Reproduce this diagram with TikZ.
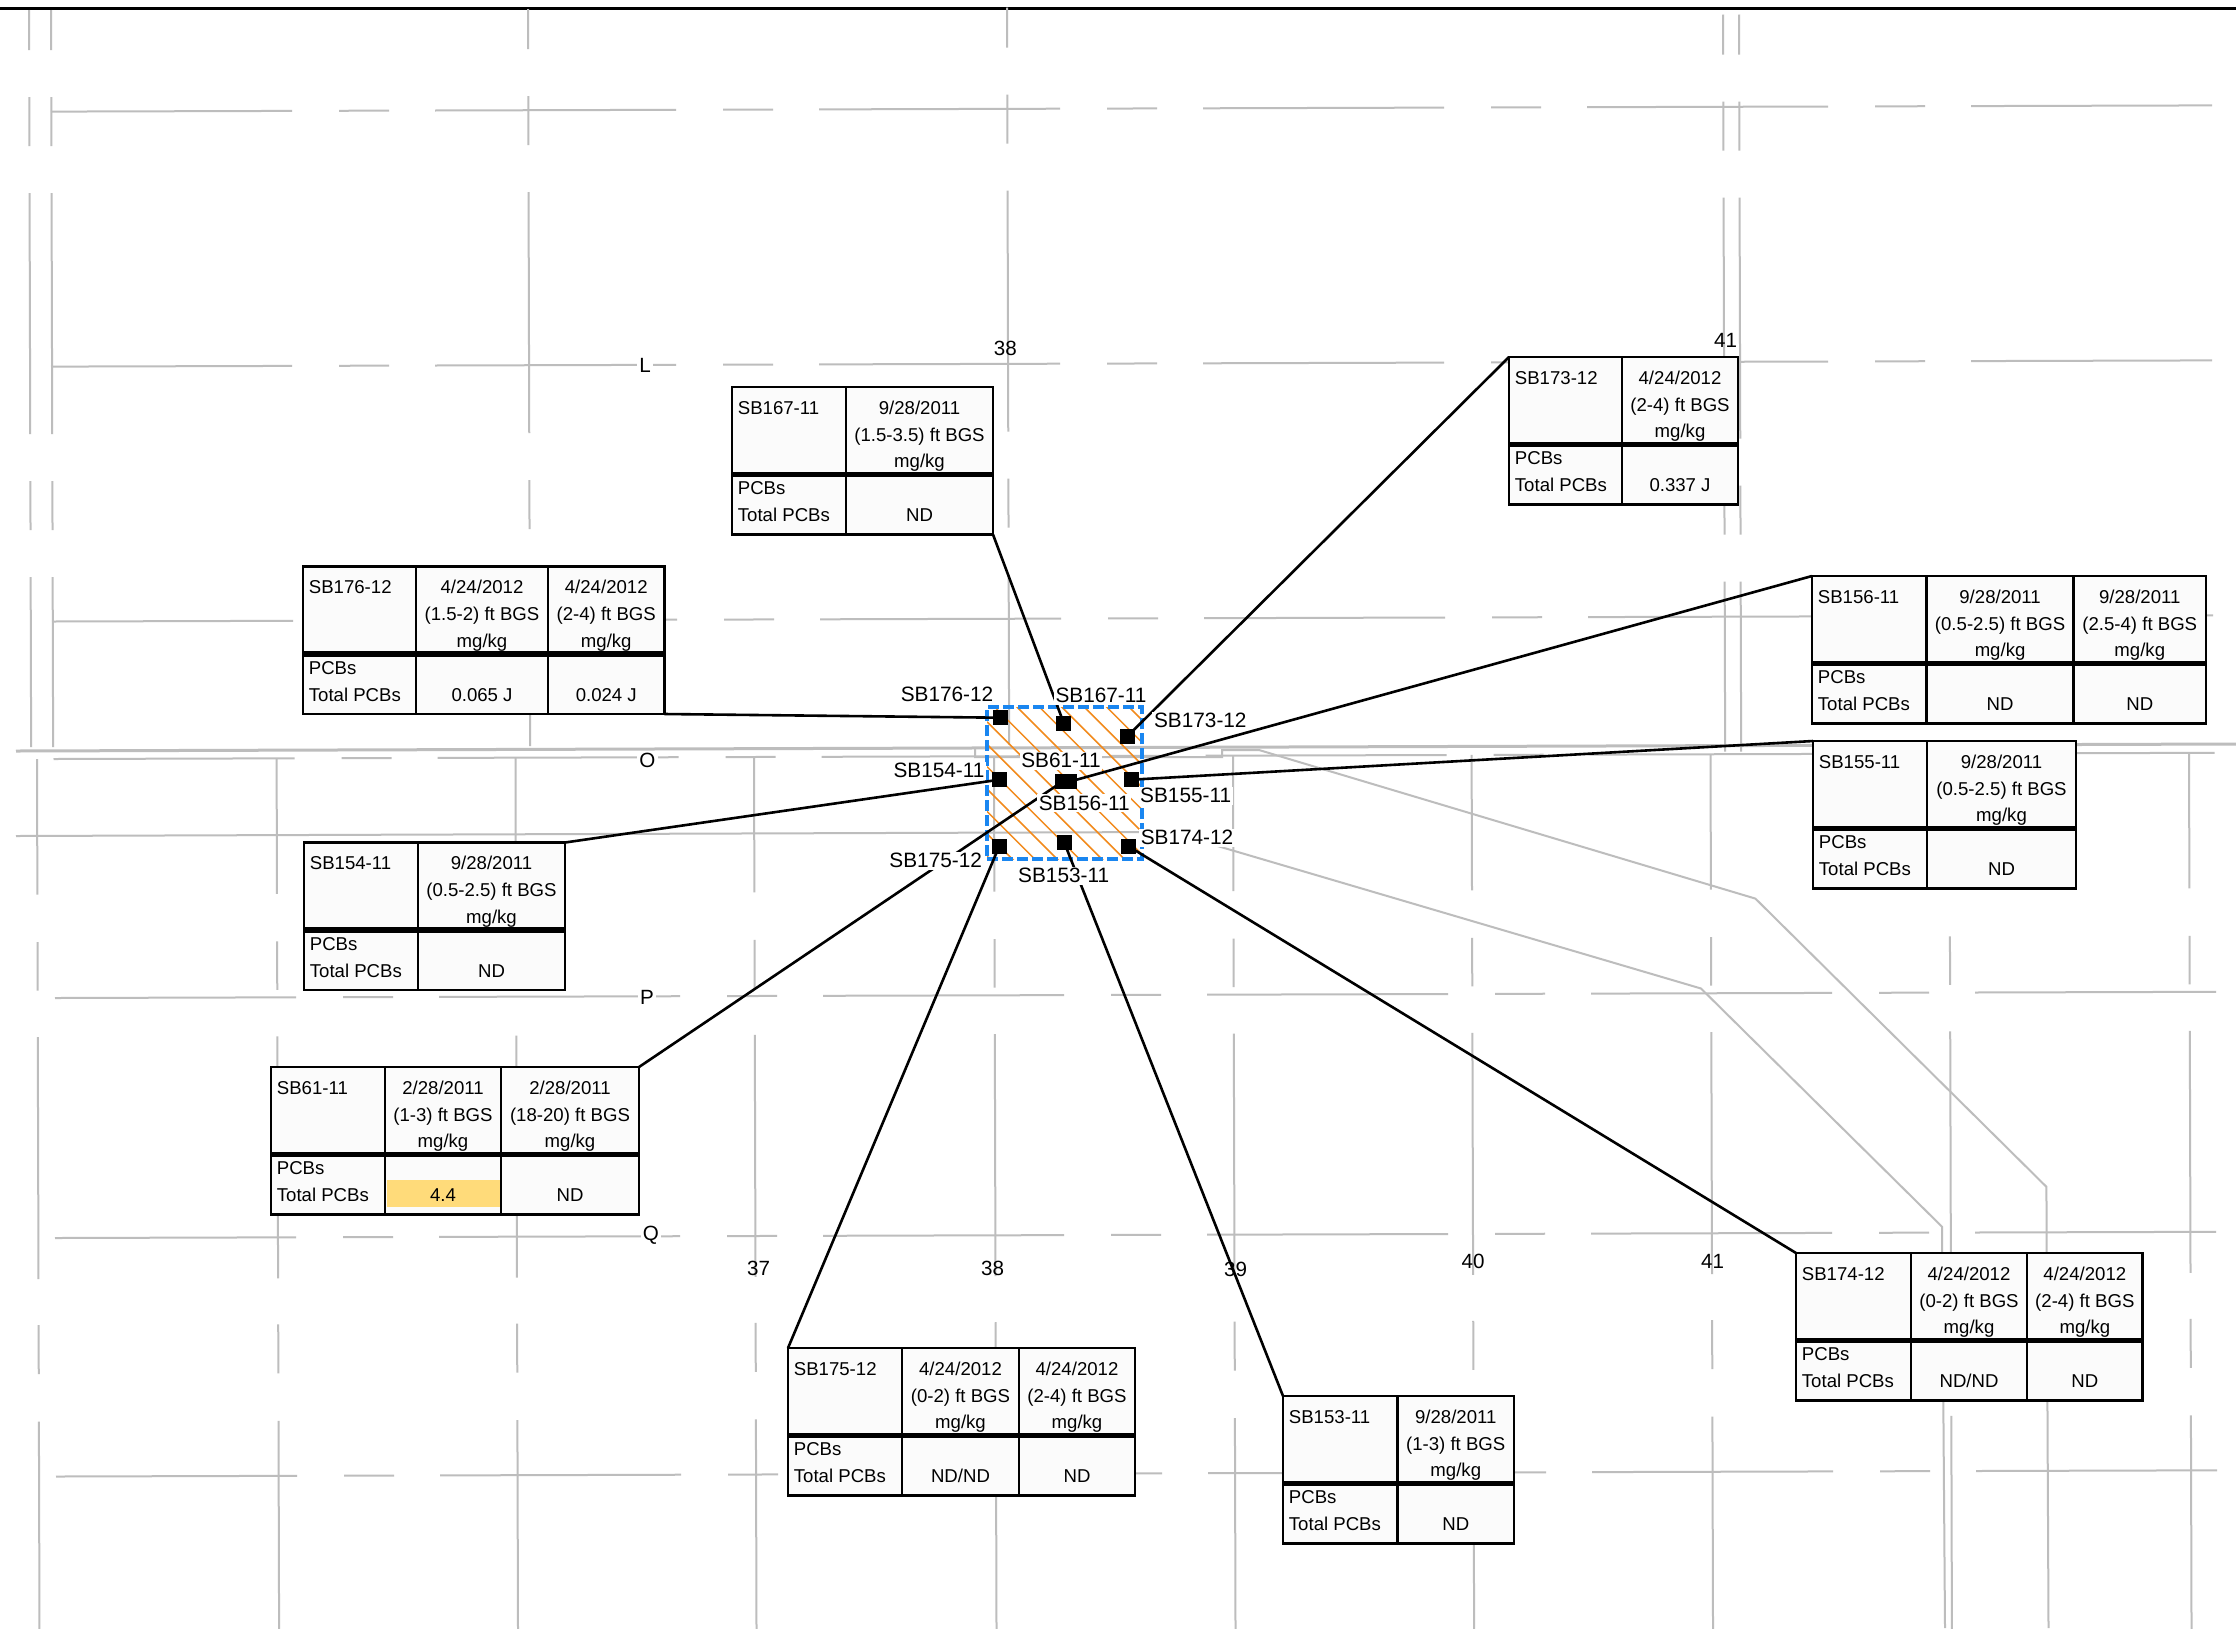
\documentclass[tikz,border=0pt]{standalone}
\usepackage{fontspec}
\setmainfont{Liberation Sans}
\definecolor{roadgray}{HTML}{BDBDBD}
\definecolor{hatchorange}{HTML}{F28A1C}
\definecolor{boxblue}{HTML}{1A86F0}
\definecolor{cellbg}{HTML}{FBFBFB}
\definecolor{hilite}{HTML}{FFDB7A}
\tikzset{
  gridline/.style={draw=roadgray,line width=1pt},
  roadline/.style={draw=roadgray,line width=1pt},
  mainroad/.style={draw=roadgray,line width=1.5pt},
  connector/.style={draw=black,line width=1.3pt},
  tblframe/.style={draw=black,fill=cellbg,line width=1.4pt,inner sep=0pt,outer sep=0pt,rectangle},
  tblrule/.style={draw=black,line width=1.4pt},
  tblmid/.style={draw=black,line width=2.7pt},
  celltext/.style={inner sep=0pt,anchor=base,font=\fontsize{9.3}{11}\selectfont},
  celllab/.style={inner sep=0pt,anchor=base west,font=\fontsize{9.3}{11}\selectfont},
  sample/.style={draw=none,fill=black,minimum size=7.5pt,inner sep=0pt,rectangle},
  sitelabel/.style={fill=white,inner sep=0.8pt,font=\fontsize{10.4}{12}\selectfont},
  gridlabel/.style={inner sep=0.5pt,font=\fontsize{10.3}{12}\selectfont},
  gridletter/.style={fill=white,inner sep=1pt,font=\fontsize{10.3}{12}\selectfont}
}
% horizontal dashed street line: left y, left x
\newcommand{\hrowline}[2]{%
  \foreach \k in {0,...,5}{%
    \draw[gridline] ({#2+384*\k},{#1-0.00287*(384*\k)}) -- ({#2+384*\k+241},{#1-0.00287*(384*\k+241)});
  }%
  \foreach \k in {0,...,4}{%
    \draw[gridline] ({#2+384*\k+288},{#1-0.00287*(384*\k+288)}) -- ({#2+384*\k+338},{#1-0.00287*(384*\k+338)});
  }%
}
% upper vertical dashed line: x, y offset
\newcommand{\vupline}[2]{%
  \foreach \a/\b in {10/50,97/146,193/434,481/530,577/747}{%
    \draw[gridline] ({#1+0.00287*\a},{\a+#2}) -- ({#1+0.00287*\b},{\b+#2});
  }%
}
% lower vertical dashed line: x at top
\newcommand{\vlowline}[1]{%
  \pgfmathsetmacro{\dyy}{-0.0029*(#1-37)}%
  \foreach \a/\b in {759/894.5,942/990.5,1037/1279,1325/1374,1421.5/1640}{%
    \draw[gridline] ({#1+0.00287*(\a-759)},{\a+\dyy}) -- ({#1+0.00287*(\b-759)},{\b+\dyy});
  }%
}
% table frame: name,x0,xright,y0
\newcommand{\tblbox}[4]{%
  \node[tblframe,anchor=north west,minimum width={(#3-#2)*0.5pt},minimum height={147.5*0.5pt}] (#1) at (#2,#4) {};
  \draw[tblmid] (#2,{#4+87.5}) -- (#3,{#4+87.5});
}
% first columns: name,label,x0,x1,x2,y0,date,depth,value
\newcommand{\tblone}[9]{%
  \draw[tblrule] (#4,#6) -- (#4,{#6+147.5});
  \node[celllab] (#1l) at ({#3+5.5},{#6+27}) {#2};
  \node[celllab] (#1p) at ({#3+5.5},{#6+107.5}) {PCBs};
  \node[celllab] (#1t) at ({#3+5.5},{#6+134.5}) {Total PCBs};
  \node[celltext] (#1a) at ({(#4+#5)/2},{#6+27}) {#7};
  \node[celltext] (#1b) at ({(#4+#5)/2},{#6+54}) {#8};
  \node[celltext] (#1c) at ({(#4+#5)/2},{#6+80.5}) {mg/kg};
  \node[celltext] (#1v) at ({(#4+#5)/2},{#6+134.5}) {#9};
}
% second sample column: name,x1,x2,y0,date,depth,value
\newcommand{\tblcol}[7]{%
  \draw[tblrule] (#2,#4) -- (#2,{#4+147.5});
  \node[celltext] (#1d) at ({(#2+#3)/2},{#4+27}) {#5};
  \node[celltext] (#1e) at ({(#2+#3)/2},{#4+54}) {#6};
  \node[celltext] (#1f) at ({(#2+#3)/2},{#4+80.5}) {mg/kg};
  \node[celltext] (#1g) at ({(#2+#3)/2},{#4+134.5}) {#7};
}
\begin{document}
\begin{tikzpicture}[x=0.5pt,y=-0.5pt]
\useasboundingbox[fill=white] (0,0) rectangle (2236,1628);
\begin{scope}
\clip (0,0) rectangle (2236,1628);
% top border
\coordinate (tl) at (0,8.7);
\coordinate (tr) at (2236,8.7);
\draw[black,line width=1.5pt] (tl) -- (tr);
% street grid
\hrowline{111.6}{51}
\hrowline{366.6}{51}
\hrowline{621.5}{52}
\hrowline{759}{53.5}
\hrowline{998}{55}
\hrowline{1238}{55}
\hrowline{1476.5}{56}
\vupline{29}{0}
\vupline{51}{0}
\vupline{528}{-1}
\vupline{1007}{-2.5}
\vupline{1723}{4.5}
\vupline{1739}{4.5}
\foreach \xx in {37,276.6,515.5,754,994,1233,1471.6,1710.5,1949.4,2189}{\vlowline{\xx}}
% long roads
\draw[mainroad] (16,751) -- (2236,744);
\draw[roadline] (975,748) -- (975,757) -- (1222,757) -- (1222,750) -- (1259,750) -- (1755.4,898.6) -- (2046.4,1186.8) -- (2048.5,1628);
\draw[roadline] (16,836) -- (1170,832) -- (1701,988.5) -- (1942,1226.7) -- (1945,1628);
% hatched area
\begin{scope}
\clip (987,707) rectangle (1142,859);
\foreach \k in {-8,...,6}{
  \pgfmathsetmacro{\cc}{310+22.4*\k}
  \draw[hatchorange,line width=0.75pt] (987,{987-\cc}) -- (1142,{1142-\cc});
}
\end{scope}
\node[draw=boxblue,line width=1.9pt,dash pattern=on 5.5pt off 2pt,rectangle,inner sep=0pt,outer sep=0pt,anchor=north west,minimum width=77.5pt,minimum height=76pt] (area) at (987,707) {};
% sample squares
\node[sample] (s176) at (1000,717.7) {};
\node[sample] (s167) at (1063.7,723) {};
\node[sample] (s173) at (1127,736.7) {};
\node[sample] (s154) at (999.3,779.7) {};
\node[sample] (s61) at (1062.3,781.7) {};
\node[sample] (s156) at (1069.3,781.7) {};
\node[sample] (s155) at (1131.3,779.7) {};
\node[sample] (s175) at (999.3,846) {};
\node[sample] (s153) at (1064,842) {};
\node[sample] (s174) at (1128,846) {};
% tables
\tblbox{t167}{732}{993}{387}
\tblone{t167}{SB167-11}{732}{846}{993}{387}{9/28/2011}{(1.5-3.5) ft BGS}{ND}
\tblbox{t176}{303}{664.5}{566.5}
\tblone{t176}{SB176-12}{303}{416}{548}{566.5}{4/24/2012}{(1.5-2) ft BGS}{0.065 J}
\tblcol{t176}{548}{664.5}{566.5}{4/24/2012}{(2-4) ft BGS}{0.024 J}
\tblbox{t173}{1509}{1738}{357}
\tblone{t173}{SB173-12}{1509}{1622}{1738}{357}{4/24/2012}{(2-4) ft BGS}{0.337 J}
\tblbox{t156}{1812}{2206}{576}
\tblone{t156}{SB156-11}{1812}{1926.6}{2073.5}{576}{9/28/2011}{(0.5-2.5) ft BGS}{ND}
\tblcol{t156}{2073.5}{2206}{576}{9/28/2011}{(2.5-4) ft BGS}{ND}
\tblbox{t155}{1813}{2076}{741}
\tblone{t155}{SB155-11}{1813}{1927}{2076}{741}{9/28/2011}{(0.5-2.5) ft BGS}{ND}
\tblbox{t154}{304}{565}{842.5}
\tblone{t154}{SB154-11}{304}{418}{565}{842.5}{9/28/2011}{(0.5-2.5) ft BGS}{ND}
\tblbox{t61}{271}{639}{1067}
\tblone{t61}{SB61-11}{271}{385}{501}{1067}{2/28/2011}{(1-3) ft BGS}{}
\tblcol{t61}{501}{639}{1067}{2/28/2011}{(18-20) ft BGS}{ND}
\fill[hilite] (386.5,1180) rectangle (500,1207);
\node[celltext] (t61v2) at (443,1201.5) {4.4};
\tblbox{t175}{788}{1135}{1348}
\tblone{t175}{SB175-12}{788}{902}{1019}{1348}{4/24/2012}{(0-2) ft BGS}{ND/ND}
\tblcol{t175}{1019}{1135}{1348}{4/24/2012}{(2-4) ft BGS}{ND}
\tblbox{t153}{1283}{1514}{1396}
\tblone{t153}{SB153-11}{1283}{1397.5}{1514}{1396}{9/28/2011}{(1-3) ft BGS}{ND}
\tblbox{t174}{1796}{2142.6}{1253}
\tblone{t174}{SB174-12}{1796}{1911}{2027}{1253}{4/24/2012}{(0-2) ft BGS}{ND/ND}
\tblcol{t174}{2027}{2142.6}{1253}{4/24/2012}{(2-4) ft BGS}{ND}
% connectors
\draw[connector] (t167.south east) -- (s167.center);
\draw[connector] (t176.south east) -- (s176.center);
\draw[connector] (t173.north west) -- (s173.center);
\draw[connector] (t156.north west) -- (s156.center);
\draw[connector] (t155.north west) -- (s155.center);
\draw[connector] (t154.north east) -- (s154.center);
\draw[connector] (t61.north east) -- (s61.center);
\draw[connector] (t175.north west) -- (s175.center);
\draw[connector] (t153.north west) -- (s153.center);
\draw[connector] (t174.north west) -- (s174.center);
% site labels
\node[sitelabel] (l176) at (947,694) {SB176-12};
\node[sitelabel] (l167) at (1101,695.7) {SB167-11};
\node[sitelabel] (l173) at (1200.3,720.7) {SB173-12};
\node[sitelabel] (l61) at (1061,760.7) {SB61-11};
\node[sitelabel] (l154) at (939,770.7) {SB154-11};
\node[sitelabel] (l155) at (1185.7,795.7) {SB155-11};
\node[sitelabel] (l156) at (1084.3,803.3) {SB156-11};
\node[sitelabel] (l174) at (1187,837.7) {SB174-12};
\node[sitelabel] (l175) at (935.7,860.7) {SB175-12};
\node[sitelabel] (l153) at (1063.7,875.7) {SB153-11};
% grid labels
\node[gridletter] (gL) at (645,365) {L};
\node[gridletter] (gO) at (647.5,760) {O};
\node[gridletter] (gP) at (647,997) {P};
\node[gridletter] (gQ) at (651,1235.6) {Q};
\node[gridlabel] (g38a) at (1005.4,348) {38};
\node[gridlabel] (g41a) at (1725.5,340.6) {41};
\node[gridlabel] (g37) at (758.6,1268) {37};
\node[gridlabel] (g38b) at (992.5,1268) {38};
\node[gridlabel] (g39) at (1235.6,1269) {39};
\node[gridlabel] (g40) at (1473,1261) {40};
\node[gridlabel] (g41b) at (1712.6,1261) {41};
\end{scope}
\end{tikzpicture}
\end{document}
